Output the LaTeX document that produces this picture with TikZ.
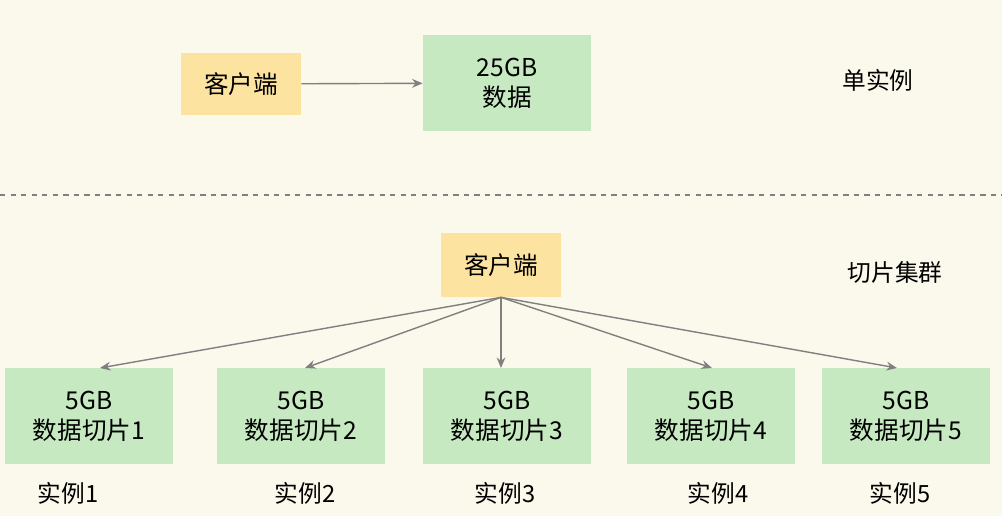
\documentclass[tikz,border=0pt]{standalone}
\usepackage{fontspec}
\setmainfont{Noto Sans CJK SC}
\usetikzlibrary{arrows.meta}
\definecolor{bg}{HTML}{FBF8EC}
\definecolor{ybox}{HTML}{FCE3A0}
\definecolor{gbox}{HTML}{C6E9C2}
\definecolor{ln}{HTML}{808080}
\begin{document}
\begin{tikzpicture}[x=0.02cm,y=-0.02cm,
  yb/.style={fill=ybox,draw=none,inner sep=0,font=\fontsize{14}{16}\selectfont},
  gb/.style={fill=gbox,draw=none,inner sep=0,align=center,font=\fontsize{14}{17}\selectfont},
  lab/.style={font=\fontsize{13.5}{16}\selectfont},
  arr/.style={draw=ln,line width=0.8pt,-{Stealth[length=6pt,width=5pt]}}]
\fill[bg] (0,0) rectangle (1002,516);
\useasboundingbox (0,0) rectangle (1002,516);
\node[yb,minimum width=120*0.02cm,minimum height=62*0.02cm] (c1) at (241,84) {客户端};
\node[gb,minimum width=168*0.02cm,minimum height=96*0.02cm] (d1) at (507,83) {25GB\\数据};
\draw[arr] (c1) -- (d1);
\node[lab] (t1) at (878,80) {单实例};
\coordinate (dl) at (0,195); \coordinate (dr) at (1002,195);
\draw[ln,dashed,line width=0.6pt] (dl) -- (dr);
\node[yb,minimum width=120*0.02cm,minimum height=64*0.02cm] (c2) at (501,265) {客户端};
\node[lab] (t2) at (895,272) {切片集群};
\foreach \i/\x/\lx in {1/89/68,2/301/305,3/507/505,4/711/718,5/906/900}{
  \node[gb,minimum width=168*0.02cm,minimum height=96*0.02cm] (s\i) at (\x,416) {5GB\\数据切片\i};
  \node[lab] (l\i) at (\lx,493) {实例\i};
}
\foreach \i/\e in {1/100,2/305,3/501,4/712,5/897}{
  \coordinate (e\i) at (\e,368);
  \draw[arr] (c2.south) -- (e\i);
}
\end{tikzpicture}
\end{document}
